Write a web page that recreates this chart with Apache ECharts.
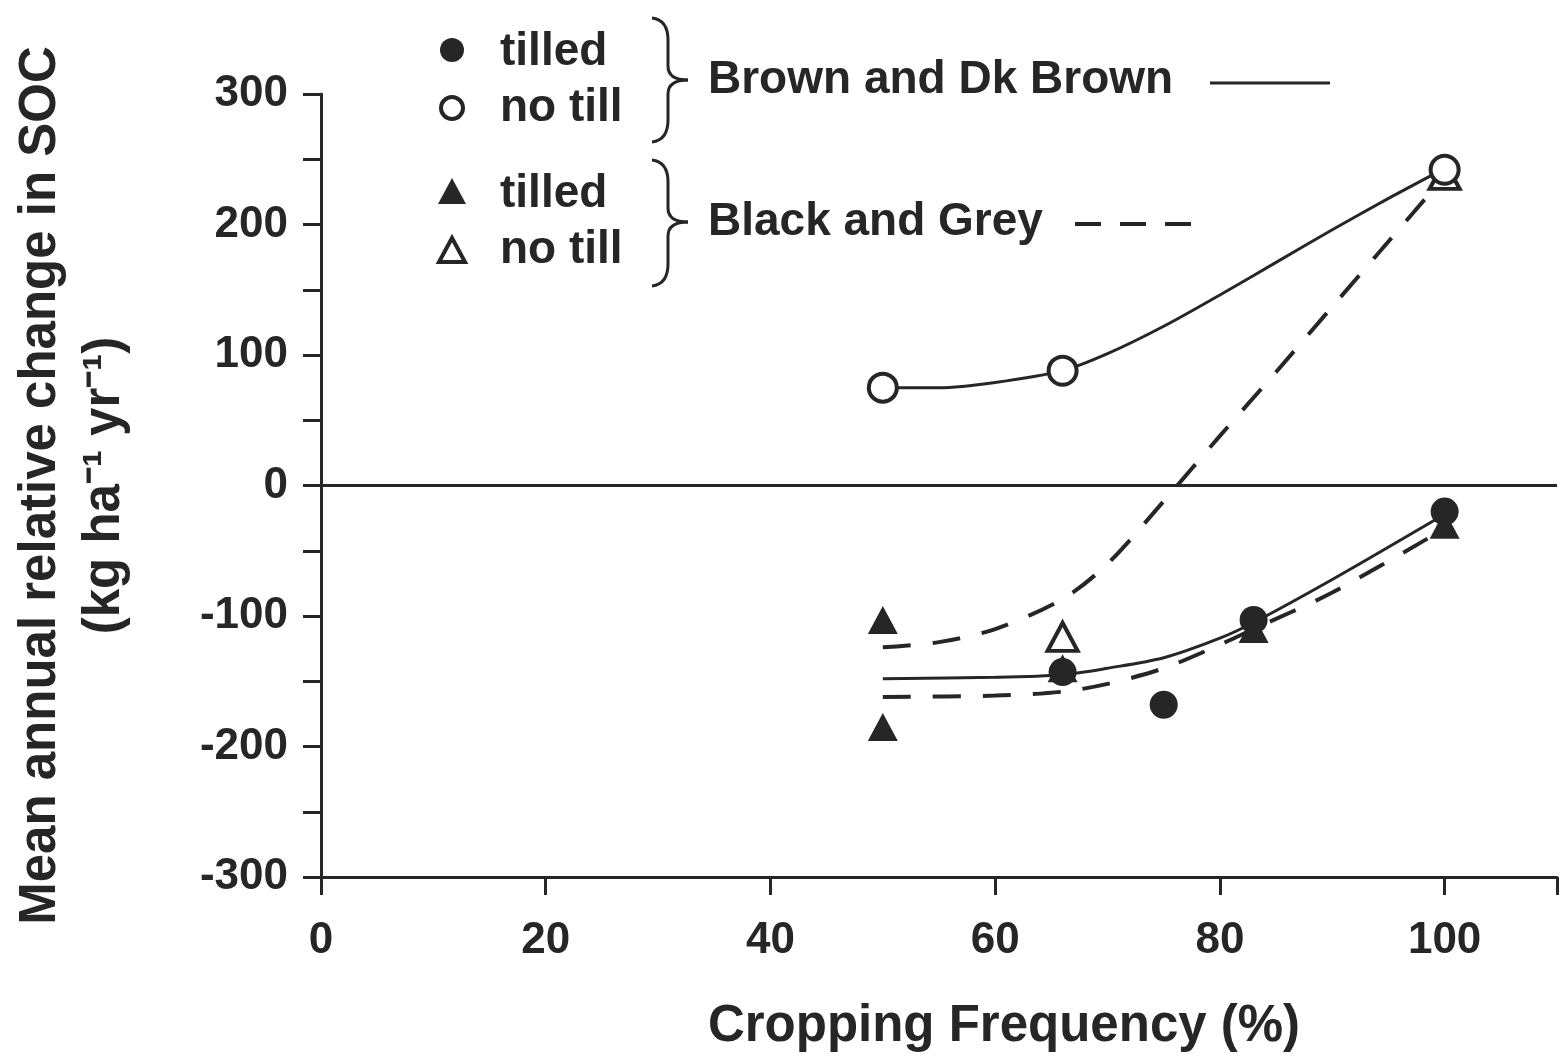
<!DOCTYPE html>
<html>
<head>
<meta charset="utf-8">
<script src="https://cdn.jsdelivr.net/npm/echarts@6/dist/echarts.min.js"></script>
<style>
  html, body { margin: 0; padding: 0; background: #fff; }
  #chart { width: 1560px; height: 1057px; }
</style>
</head>
<body>
<div id="chart"></div>
<script>
// measured points (cropping frequency %, kg/ha/yr)
const brownTilledX = [66, 75, 83, 100]
const brownTilledY = [-143, -168, -103, -20]
const brownNoTillX = [50, 66, 100]
const brownNoTillY = [75, 88, 242]
const blackTilledX = [50, 50, 66, 83, 100]
const blackTilledY = [-103, -185, -140, -110, -30]
const blackNoTillX = [66, 100]
const blackNoTillY = [-116, 238]

// fitted curves
const brownNoTillFitX = [50, 55, 60, 66, 70, 75, 80, 85, 90, 95, 100]
const brownNoTillFitY = [75, 75, 79, 88, 101, 122, 146, 171, 196, 220, 243]
const brownTilledFitX = [50, 60, 66, 70, 75, 80, 83, 90, 100]
const brownTilledFitY = [-148, -147, -145, -140, -132, -117, -105, -72, -22]
const blackNoTillFitX = [50, 55, 60, 66, 70, 75, 80, 85, 90, 95, 100]
const blackNoTillFitY = [-124, -120, -110, -87, -60, -12, 38, 87, 137, 187, 237]
const blackTilledFitX = [50, 60, 66, 70, 75, 80, 83, 90, 100]
const blackTilledFitY = [-162, -161, -158, -152, -140, -122, -110, -82, -33]

const xTicks = [0, 20, 40, 60, 80, 100]
const yLabels = [-300, -200, -100, 0, 100, 200, 300]

const ink = '#262626'
const font = '"Liberation Sans", Arial, sans-serif'

const pairs = (xs, ys) => xs.map((x, i) => [x, ys[i]])

const chart = echarts.init(document.getElementById('chart'))

const fitLine = (xs, ys, dashed) => ({
  type: 'line',
  data: pairs(xs, ys),
  smooth: 0.3,
  showSymbol: false,
  silent: true,
  z: 2,
  lineStyle: dashed
    ? { color: ink, width: 4, type: [28, 22] }
    : { color: ink, width: 3 },
})

const scatter = (xs, ys, symbol, filled, size) => ({
  type: 'scatter',
  data: pairs(xs, ys),
  symbol,
  symbolSize: size,
  z: 3,
  itemStyle: filled
    ? { color: ink, opacity: 1 }
    : { color: '#fff', borderColor: ink, borderWidth: 4, opacity: 1 },
})

// legend block drawn by hand, the original uses braces
const legendText = (x, y, text) => ({
  type: 'text', x, y,
  style: { text, font: 'bold 46px ' + font, fill: ink, verticalAlign: 'middle' },
})
const braceStroke = { stroke: ink, lineWidth: 3, fill: null }
const curve = (x1, y1, cpx1, cpy1, x2, y2) => ({
  type: 'bezierCurve', shape: { x1, y1, cpx1, cpy1, x2, y2 }, style: braceStroke,
})
const seg = (x1, y1, x2, y2) => ({ type: 'line', shape: { x1, y1, x2, y2 }, style: braceStroke })
const brace = (top, mid, bottom) => ({
  type: 'group',
  children: [
    curve(652, top, 668, top + 2, 668, top + 22),
    seg(668, top + 22, 668, mid - 14),
    curve(668, mid - 14, 668, mid, 688, mid),
    curve(688, mid, 668, mid, 668, mid + 14),
    seg(668, mid + 14, 668, bottom - 22),
    curve(668, bottom - 22, 668, bottom - 2, 652, bottom),
  ],
})

chart.setOption({
  backgroundColor: '#fff',
  animation: false,
  grid: { left: 321, top: 94, right: 0, bottom: 178 },
  xAxis: {
    type: 'value',
    min: 0,
    max: 110,
    interval: 20,
    splitLine: { show: false },
    axisLine: { onZero: false, lineStyle: { color: ink, width: 3 } },
    axisTick: { length: 18, lineStyle: { color: ink, width: 3 } },
    axisLabel: {
      margin: 42,
      color: ink,
      fontSize: 44,
      fontWeight: 'bold',
      fontFamily: font,
      formatter: v => (xTicks.includes(v) ? String(v) : ''),
    },
    name: 'Cropping Frequency (%)',
    nameLocation: 'middle',
    nameGap: 124,
    nameTextStyle: { color: ink, fontSize: 51, fontWeight: 'bold', fontFamily: font, padding: [0, 0, 0, 130] },
  },
  yAxis: {
    type: 'value',
    min: -300,
    max: 300,
    interval: 50,
    splitLine: { show: false },
    axisLine: { lineStyle: { color: ink, width: 3 } },
    axisTick: { length: 18, lineStyle: { color: ink, width: 3 } },
    axisLabel: {
      margin: 33,
      color: ink,
      fontSize: 44,
      fontWeight: 'bold',
      fontFamily: font,
      formatter: v => (yLabels.includes(v) ? String(v) : ''),
    },
    name: 'Mean annual relative change in SOC\n(kg ha⁻¹ yr⁻¹)',
    nameLocation: 'middle',
    nameGap: 184,
    nameTextStyle: { color: ink, fontSize: 51, fontWeight: 'bold', fontFamily: font, lineHeight: 64 },
  },
  series: [
    {
      ...fitLine(brownNoTillFitX, brownNoTillFitY, false),
      markLine: {
        silent: true,
        symbol: 'none',
        label: { show: false },
        lineStyle: { color: ink, width: 3, type: 'solid' },
        data: [{ yAxis: 0 }],
      },
    },
    fitLine(brownTilledFitX, brownTilledFitY, false),
    fitLine(blackNoTillFitX, blackNoTillFitY, true),
    fitLine(blackTilledFitX, blackTilledFitY, true),
    scatter(blackTilledX, blackTilledY, 'triangle', true, [30, 28]),
    scatter(blackNoTillX, blackNoTillY, 'triangle', false, [30, 28]),
    scatter(brownTilledX, brownTilledY, 'circle', true, 28),
    scatter(brownNoTillX, brownNoTillY, 'circle', false, 28),
  ],
  graphic: [
    { type: 'circle', shape: { cx: 452, cy: 50, r: 12 }, style: { fill: ink } },
    { type: 'circle', shape: { cx: 452, cy: 108, r: 11 }, style: { fill: '#fff', stroke: ink, lineWidth: 4 } },
    { type: 'polygon', shape: { points: [[452, 178], [466, 204], [438, 204]] }, style: { fill: ink } },
    { type: 'polygon', shape: { points: [[452, 238], [465, 262], [439, 262]] }, style: { fill: '#fff', stroke: ink, lineWidth: 4 } },
    legendText(500, 52, 'tilled'),
    legendText(500, 108, 'no till'),
    legendText(500, 194, 'tilled'),
    legendText(500, 250, 'no till'),
    brace(18, 80, 142),
    brace(160, 222, 286),
    legendText(708, 80, 'Brown and Dk Brown'),
    legendText(708, 222, 'Black and Grey'),
    { type: 'line', shape: { x1: 1210, y1: 83, x2: 1330, y2: 83 }, style: { stroke: ink, lineWidth: 3 } },
    { type: 'line', shape: { x1: 1075, y1: 224, x2: 1195, y2: 224 }, style: { stroke: ink, lineWidth: 4, lineDash: [26, 19] } },
  ],
})
</script>
</body>
</html>
